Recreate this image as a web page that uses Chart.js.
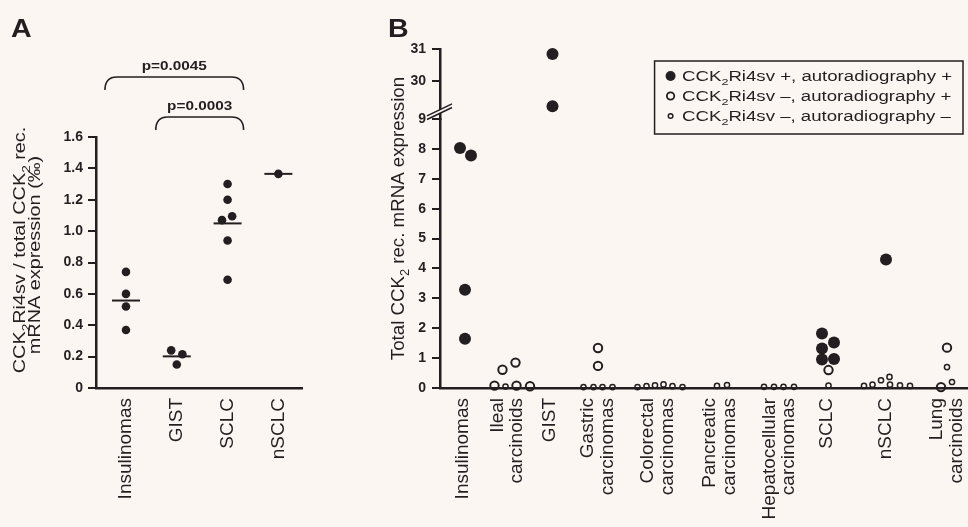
<!DOCTYPE html>
<html>
<head>
<meta charset="utf-8">
<script src="https://cdn.jsdelivr.net/npm/chart.js@4.4.1/dist/chart.umd.min.js"></script>
<style>
  html, body { margin: 0; padding: 0; background: #fcf6f3; }
  #wrap { position: relative; width: 968px; height: 527px; overflow: hidden; }
  canvas { position: absolute; top: 0; }
  #panelA { left: 0; }
  #panelB { left: 330px; }
</style>
</head>
<body>
<div id="wrap">
  <canvas id="panelA" width="330" height="527"></canvas>
  <canvas id="panelB" width="638" height="527"></canvas>
</div>
<script>
const INK = '#231f20';
const PAPER = '#fcf6f3';
const SANS = '"Liberation Sans", Arial, Helvetica, sans-serif';

// ---- panel A: CCK2Ri4sv / total CCK2 (per mille) ----
const catsA = [['Insulinomas'], ['GIST'], ['SCLC'], ['nSCLC']];
const ratioA = [
  [0.74, 0.60, 0.52, 0.37],
  [0.24, 0.215, 0.15],
  [1.30, 1.20, 1.095, 1.07, 0.94, 0.69],
  [1.365]
];
// horizontal spread of the dots inside a group (category units)
const jitterA = [
  [0, 0, 0, 0],
  [-0.11, 0.11, 0],
  [0, 0, 0.09, -0.11, 0, 0],
  [0]
];
const comparisons = [[1, 2], [0, 2]];
const pValues = ['p=0.0003', 'p=0.0045'];

// ---- panel B: total CCK2 mRNA expression ----
const catsB = [
  ['Insulinomas'], ['Ileal', 'carcinoids'], ['GIST'], ['Gastric', 'carcinomas'],
  ['Colorectal', 'carcinomas'], ['Pancreatic', 'carcinomas'], ['Hepatocellular', 'carcinomas'],
  ['SCLC'], ['nSCLC'], ['Lung', 'carcinoids']
];
const groupX = [0.46, 1.35, 2.2, 3.16, 4.36, 5.6, 6.79, 7.74, 8.92, 10.14];
const lowMaxB = 9;
const highTicksB = [30, 31];
// [dx, value] per tumour, one list per group
const posPos = [
  [[-0.06, 8.03], [0.16, 7.78], [0.04, 3.29], [0.04, 1.65]],
  [],
  [[0.05, 30.84], [0.05, 29.2]],
  [], [], [], [],
  [[-0.1, 1.82], [0.14, 1.52], [-0.1, 1.32], [-0.1, 0.95], [0.14, 0.97]],
  [[0, 4.3]],
  []
];
const negPos = [
  [],
  [[-0.26, 0.08], [-0.1, 0.61], [0.16, 0.85], [0.18, 0.08], [0.45, 0.06]],
  [],
  [[0, 1.34], [0, 0.74]],
  [], [], [],
  [[0.03, 0.6]],
  [],
  [[0, 1.35], [-0.12, 0.03]]
];
const negNeg = [
  [],
  [[-0.04, 0.05]],
  [],
  [[-0.29, 0.03], [-0.09, 0.03], [0.09, 0.03], [0.29, 0.03]],
  [[-0.41, 0.03], [-0.23, 0.06], [-0.06, 0.09], [0.11, 0.12], [0.29, 0.06], [0.49, 0.03]],
  [[-0.06, 0.07], [0.14, 0.1]],
  [[-0.31, 0.04], [-0.11, 0.04], [0.08, 0.04], [0.29, 0.04]],
  [[0.03, 0.08]],
  [[-0.44, 0.07], [-0.27, 0.11], [-0.1, 0.26], [0.07, 0.37], [0.08, 0.11], [0.28, 0.09], [0.48, 0.07]],
  [[0, 0.7], [0.1, 0.2]]
];
const legendB = [
  'CCK_2Ri4sv +, autoradiography +',
  'CCK_2Ri4sv \u2013, autoradiography +',
  'CCK_2Ri4sv \u2013, autoradiography \u2013'
];

// "_2" marks a subscript digit
function rich(str) {
  return str.split(/_(\d)/).map((t, i) => [t, i % 2 === 1]).filter(p => p[0]);
}

function drawRich(ctx, str, x, y, o) {
  const parts = rich(str);
  const sub = o.size * 0.68;
  const fontOf = s => `${o.weight || 'normal'} ${s ? sub : o.size}px ${SANS}`;
  const widths = parts.map(([t, s]) => { ctx.font = fontOf(s); return ctx.measureText(t).width; });
  const total = widths.reduce((a, b) => a + b, 0);
  ctx.save();
  ctx.translate(x, y);
  if (o.rotate) ctx.rotate(o.rotate);
  ctx.scale(o.sx || 1, 1);
  ctx.fillStyle = INK;
  ctx.textAlign = 'left';
  ctx.textBaseline = 'alphabetic';
  let cx = o.align === 'center' ? -total / 2 : o.align === 'right' ? -total : 0;
  parts.forEach(([t, s], i) => {
    ctx.font = fontOf(s);
    ctx.fillText(t, cx, s ? o.size * 0.3 : 0);
    cx += widths[i];
  });
  ctx.restore();
  return total * (o.sx || 1);
}

function drawCategoryLabels(chart, cats, pos) {
  const { ctx, chartArea, scales: { x } } = chart;
  ctx.save();
  ctx.fillStyle = INK;
  ctx.font = `19px ${SANS}`;
  ctx.textAlign = 'right';
  ctx.textBaseline = 'middle';
  cats.forEach((lines, i) => {
    ctx.save();
    ctx.translate(x.getPixelForValue(pos[i]), chartArea.bottom + 10);
    ctx.rotate(-Math.PI / 2);
    lines.forEach((t, k) => ctx.fillText(t, 0, (k - (lines.length - 1) / 2) * 19.5));
    ctx.restore();
  });
  ctx.restore();
}

const mean = arr => arr.reduce((a, b) => a + b, 0) / arr.length;
const catPosA = catsA.map((c, i) => i + 1);

const dotsA = [];
ratioA.forEach((vals, g) => vals.forEach((v, k) => dotsA.push({ x: catPosA[g] + jitterA[g][k], y: v })));
const meansA = ratioA.map((vals, g) => ({ x: catPosA[g], y: mean(vals) }));

const axisTicks = (size) => ({ color: INK, font: { family: SANS, size: size, weight: 'bold' }, padding: 5 });
const axisGrid = { drawOnChartArea: false, color: INK, lineWidth: 2, tickLength: 8 };
const axisBorder = { color: INK, width: 2.5 };

const panelAExtras = {
  id: 'panelAExtras',
  afterDraw(chart) {
    const { ctx, chartArea, scales: { x } } = chart;
    drawCategoryLabels(chart, catsA, catPosA);
    drawRich(ctx, 'A', 11, 37, { size: 26, weight: 'bold', sx: 1.1 });
    drawRich(ctx, 'CCK_2Ri4sv / total CCK_2 rec.', 24.7, 250, { size: 16, sx: 1.24, rotate: -Math.PI / 2, align: 'center' });
    drawRich(ctx, 'mRNA expression (\u2030)', 40.4, 255, { size: 16, sx: 1.24, rotate: -Math.PI / 2, align: 'center' });

    ctx.save();
    ctx.strokeStyle = INK;
    ctx.lineWidth = 1.6;
    comparisons.forEach(([a, b], k) => {
      const x1 = x.getPixelForValue(catPosA[a]) - 21;
      const x2 = x.getPixelForValue(catPosA[b]) + 16;
      const top = chartArea.top - 20 - 40 * k;
      const foot = top + 13;
      ctx.beginPath();
      ctx.moveTo(x1, foot);
      ctx.quadraticCurveTo(x1, top, x1 + 12, top);
      ctx.lineTo(x2 - 12, top);
      ctx.quadraticCurveTo(x2, top, x2, foot);
      ctx.stroke();
      drawRich(ctx, pValues[k], (x1 + x2) / 2, top - 7, { size: 13, weight: 'bold', sx: 1.18, align: 'center' });
    });
    ctx.restore();
  }
};

new Chart(document.getElementById('panelA'), {
  type: 'scatter',
  data: {
    datasets: [
      { data: dotsA, pointRadius: 4.3, backgroundColor: INK, borderWidth: 0, clip: false },
      { data: meansA, pointStyle: 'line', pointRadius: 14, borderColor: INK, borderWidth: 2, clip: false }
    ]
  },
  options: {
    responsive: false,
    animation: false,
    events: [],
    layout: { autoPadding: false, padding: { left: 0, right: 28, top: 137, bottom: 0 } },
    plugins: { legend: { display: false }, tooltip: { enabled: false } },
    scales: {
      x: {
        type: 'linear', min: 0.41, max: 4.465,
        grid: { display: false, drawTicks: false },
        border: axisBorder,
        ticks: { display: false },
        afterFit: s => { s.height = 139; }
      },
      y: {
        min: 0, max: 1.6,
        ticks: { ...axisTicks(14), stepSize: 0.2, callback: v => (v === 0 ? '0' : v.toFixed(1)) },
        grid: axisGrid,
        border: axisBorder,
        afterFit: s => { s.width = 96; }
      }
    }
  },
  plugins: [panelAExtras]
});

// ---- panel B datasets ----
function series(groups, high) {
  const out = [];
  groups.forEach((pts, g) => pts.forEach(([dx, v]) => {
    if ((v > lowMaxB) === high) out.push({ x: groupX[g] + dx, y: v });
  }));
  return out;
}

const panelBExtras = {
  id: 'panelBExtras',
  afterDraw(chart) {
    const { ctx, chartArea, scales: { yLow } } = chart;
    drawCategoryLabels(chart, catsB, groupX);
    drawRich(ctx, 'B', 58, 37, { size: 26, weight: 'bold', sx: 1.1 });
    drawRich(ctx, 'Total CCK_2 rec. mRNA expression', 67 + 6.7, (chartArea.top + chartArea.bottom) / 2,
      { size: 18.7, rotate: -Math.PI / 2, align: 'center' });

    // axis break between the two stacked y scales
    const ax = chartArea.left;
    const by = yLow.top;
    ctx.save();
    ctx.fillStyle = PAPER;
    ctx.beginPath();
    ctx.moveTo(ax - 4, by - 3.5);
    ctx.lineTo(ax + 4, by - 7.5);
    ctx.lineTo(ax + 4, by - 11);
    ctx.lineTo(ax - 4, by - 7);
    ctx.closePath();
    ctx.fill();
    ctx.strokeStyle = INK;
    ctx.lineWidth = 1.5;
    [0, -3.6].forEach(o => {
      ctx.beginPath();
      ctx.moveTo(ax - 13, by + 0.5 + o);
      ctx.lineTo(ax + 12, by - 11.5 + o);
      ctx.stroke();
    });

    // legend box
    const sx = 1.33;
    const textW = Math.max(...legendB.map(t => {
      let w = 0;
      rich(t).forEach(([s, sub]) => { ctx.font = `${sub ? 14 * 0.68 : 14}px ${SANS}`; w += ctx.measureText(s).width; });
      return w * sx;
    }));
    const boxW = 27.5 + textW + 11;
    const boxR = chartArea.right - 5;
    const boxL = boxR - boxW;
    const boxT = chartArea.top + 12;
    ctx.fillStyle = PAPER;
    ctx.fillRect(boxL, boxT, boxW, 73);
    ctx.lineWidth = 1.5;
    ctx.strokeRect(boxL, boxT, boxW, 73);
    const marks = [
      { r: 5, fill: true, lw: 0 },
      { r: 3.7, fill: false, lw: 1.8 },
      { r: 2.3, fill: false, lw: 1.5 }
    ];
    legendB.forEach((t, i) => {
      const cy = boxT + 15 + 20 * i;
      const m = marks[i];
      ctx.beginPath();
      ctx.arc(boxL + 16, cy, m.r, 0, Math.PI * 2);
      if (m.fill) { ctx.fillStyle = INK; ctx.fill(); }
      else { ctx.lineWidth = m.lw; ctx.strokeStyle = INK; ctx.stroke(); }
      drawRich(ctx, t, boxL + 27.5, cy + 5, { size: 14, sx: sx });
    });
    ctx.restore();
  }
};

const filled = { pointRadius: 6, backgroundColor: INK, borderWidth: 0, clip: false };
const openBig = { pointRadius: 4.2, backgroundColor: 'rgba(0,0,0,0)', borderColor: INK, borderWidth: 2, clip: false };
const openSmall = { pointRadius: 2.6, backgroundColor: 'rgba(0,0,0,0)', borderColor: INK, borderWidth: 1.5, clip: false };

new Chart(document.getElementById('panelB'), {
  type: 'scatter',
  data: {
    datasets: [
      { ...filled, data: series(posPos, false), yAxisID: 'yLow' },
      { ...filled, data: series(posPos, true), yAxisID: 'yHigh' },
      { ...openBig, data: series(negPos, false), yAxisID: 'yLow' },
      { ...openSmall, data: series(negNeg, false), yAxisID: 'yLow' }
    ]
  },
  options: {
    responsive: false,
    animation: false,
    events: [],
    layout: { autoPadding: false, padding: { left: 0, right: 0, top: 49, bottom: 0 } },
    plugins: { legend: { display: false }, tooltip: { enabled: false } },
    scales: {
      x: {
        type: 'linear', min: 0, max: 10.56,
        grid: { display: false, drawTicks: false },
        border: axisBorder,
        ticks: { display: false },
        afterFit: s => { s.height = 139; }
      },
      yLow: {
        type: 'linear', position: 'left', stack: 'total', stackWeight: 269,
        min: 0, max: lowMaxB,
        ticks: { ...axisTicks(14), stepSize: 1, padding: 6 },
        grid: axisGrid,
        border: axisBorder,
        afterFit: s => { s.width = 110; }
      },
      yHigh: {
        type: 'linear', position: 'left', stack: 'total', stackWeight: 70,
        min: 28.8, max: 31,
        afterBuildTicks: s => { s.ticks = highTicksB.map(v => ({ value: v })); },
        ticks: { ...axisTicks(14), padding: 6 },
        grid: axisGrid,
        border: axisBorder,
        afterFit: s => { s.width = 110; }
      }
    }
  },
  plugins: [panelBExtras]
});
</script>
</body>
</html>
